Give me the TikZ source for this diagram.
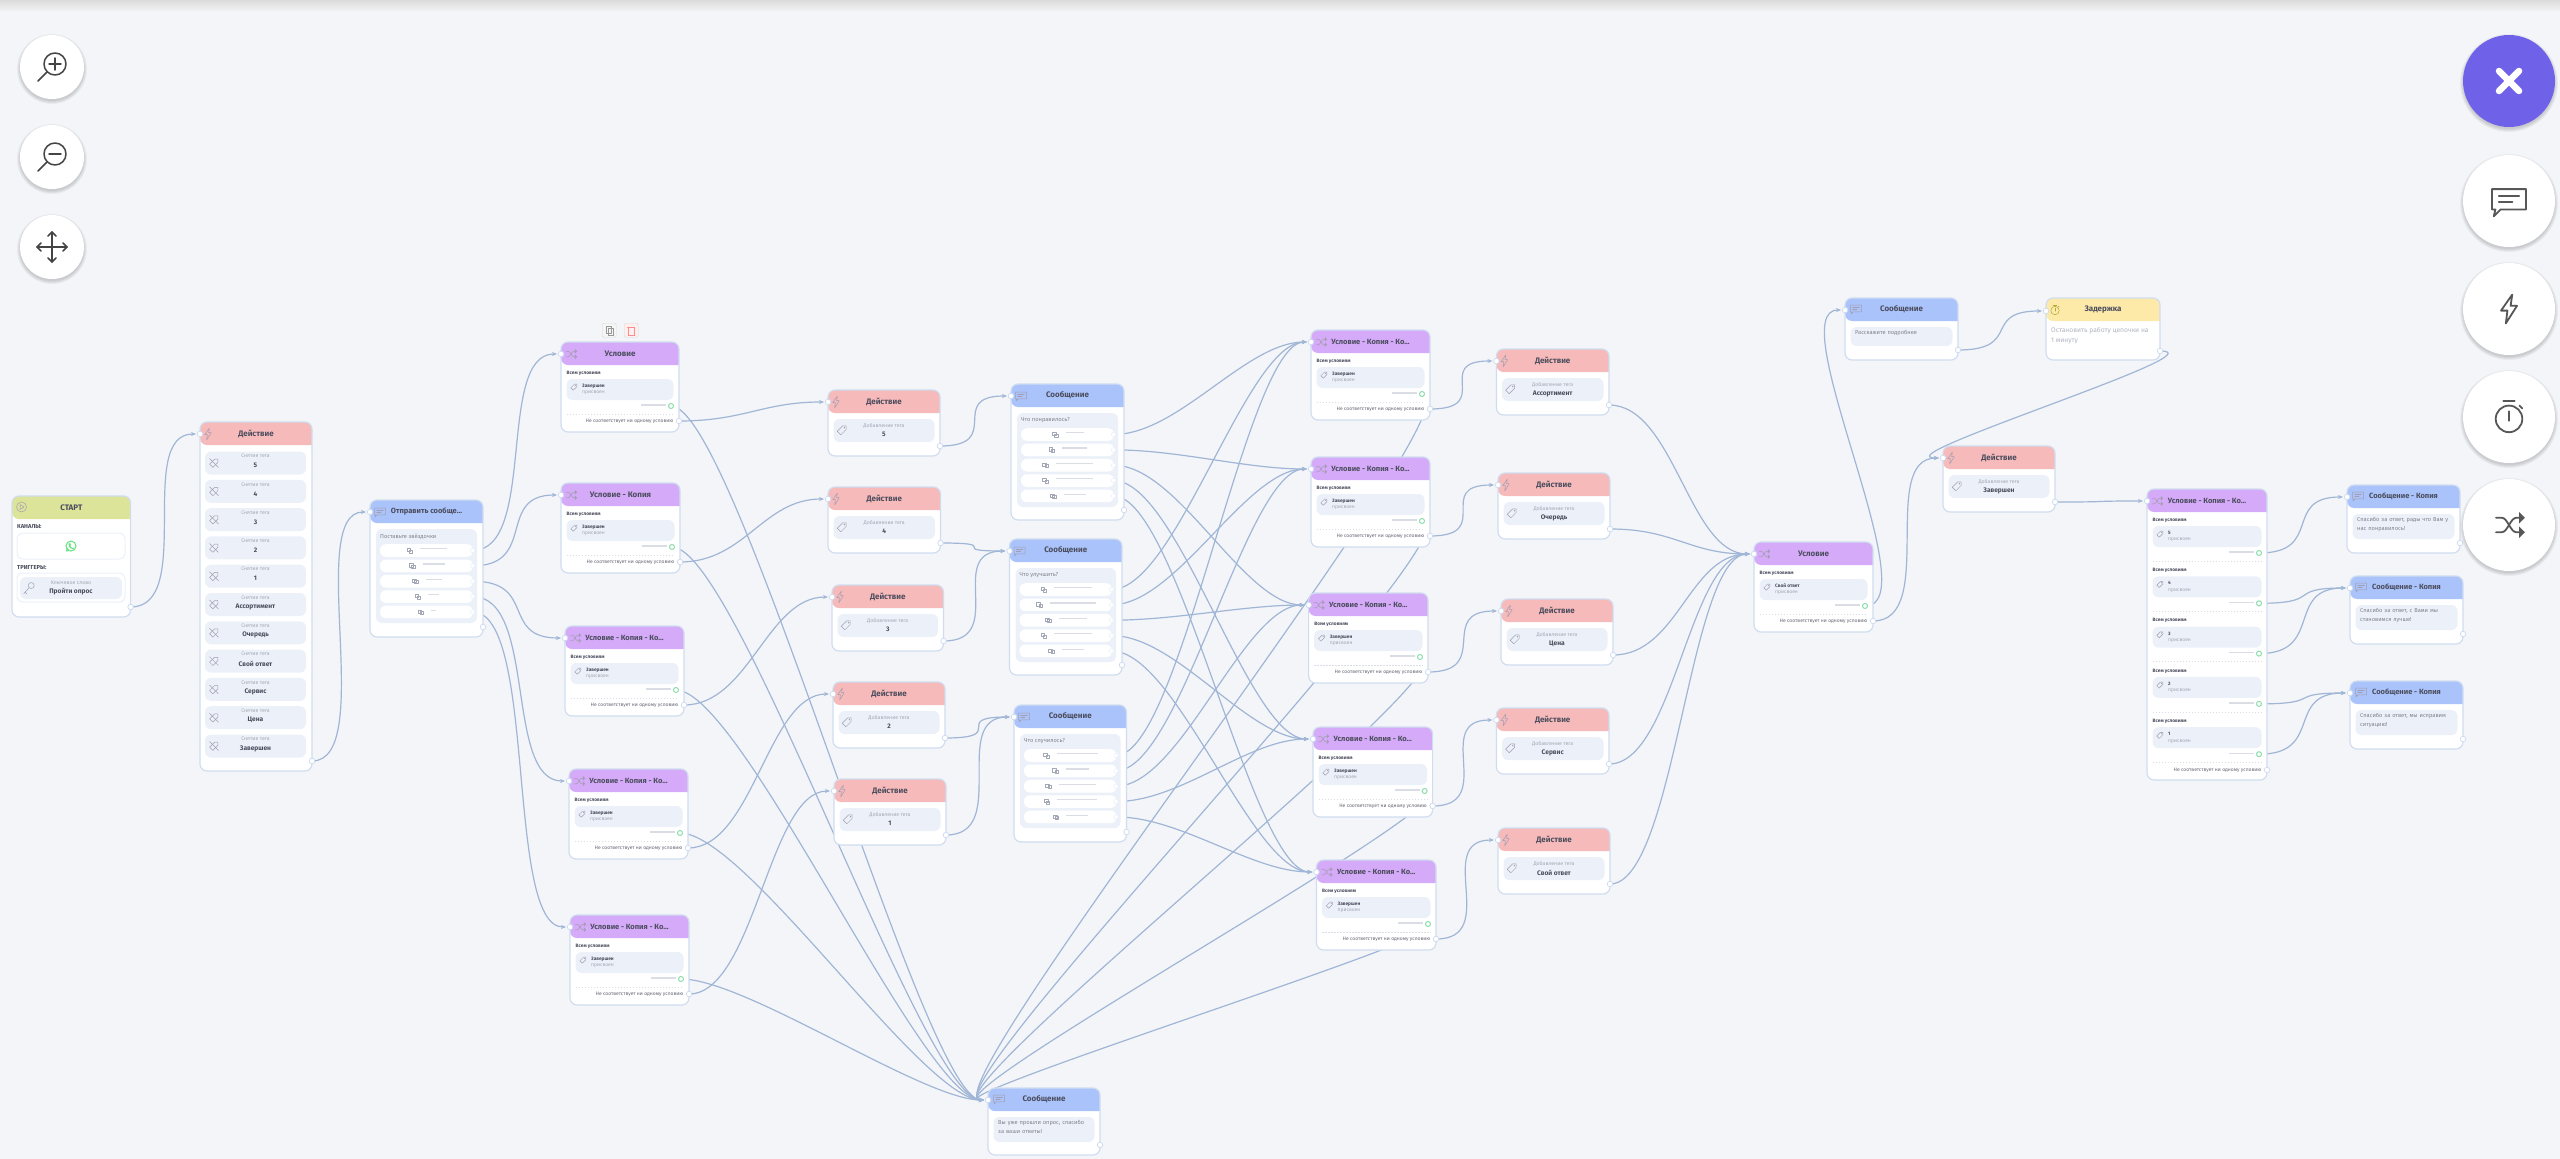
\documentclass[tikz,border=0pt]{standalone}
\usepackage{fontspec}
\setmainfont{Fira Sans}
\usetikzlibrary{arrows.meta}
\pgfdeclarelayer{bg}\pgfsetlayers{bg,main}
\definecolor{pagebg}{HTML}{F4F5F8}
\definecolor{edge}{HTML}{D0DDF0}
\definecolor{soft}{HTML}{ECF1F9}
\definecolor{wire}{HTML}{A0B6D6}
\definecolor{hgreen}{HTML}{DCE49A}
\definecolor{hred}{HTML}{F6BABA}
\definecolor{hblue}{HTML}{AAC3FA}
\definecolor{hpurple}{HTML}{D5AAF8}
\definecolor{hyellow}{HTML}{FDEAA9}
\definecolor{ink}{HTML}{4B4D5E}
\definecolor{mute}{HTML}{A3A7B5}
\definecolor{okgreen}{HTML}{8ADDAA}
\definecolor{rulegray}{HTML}{DADDE3}
\definecolor{iconc}{HTML}{A29DB0}
\definecolor{btn}{HTML}{444444}
\definecolor{violetb}{HTML}{6F62E8}
\newcounter{lbn}
\newcommand\lt[1]{{\fontsize{7.5}{9}\selectfont #1}}
\tikzset{
  x=1pt,y=-1pt,
  cardb/.style={draw=edge,line width=1.2pt,fill=white,rounded corners=7pt,inner sep=0pt,outer sep=0pt},
  softb/.style={fill=soft,rounded corners=6pt,inner sep=0pt,outer sep=0pt},
  rowb/.style={fill=white,rounded corners=6pt,inner sep=0pt,outer sep=0pt},
  outb/.style={fill=white,draw=soft,line width=1pt,rounded corners=6pt,inner sep=0pt,outer sep=0pt},
  portn/.style={circle,draw=edge,line width=.8pt,fill=white,minimum size=5.5pt,inner sep=0pt},
  portr/.style={circle,draw=soft,line width=.6pt,fill=white,minimum size=4.5pt,inner sep=0pt},
  portg/.style={circle,draw=okgreen,line width=1pt,fill=white,minimum size=5pt,inner sep=0pt},
  wirelink/.style={draw=wire,line width=1.2pt,-{Stealth[length=5pt,width=4pt]},shorten >=4pt},
  ttl/.style={text=ink,inner sep=0pt,font=\fontsize{8}{10}\selectfont\bfseries},
  captxt/.style={text=mute,inner sep=0pt,font=\fontsize{5.2}{6.5}\selectfont},
  valtxt/.style={text=ink,inner sep=0pt,font=\fontsize{6.6}{8}\selectfont\bfseries},
  headtxt/.style={text=ink,inner sep=0pt,anchor=west,font=\fontsize{5.8}{7}\selectfont\bfseries},
  smalltxt/.style={text=ink!85,inner sep=0pt,font=\fontsize{5}{6}\selectfont},
  smallb/.style={text=ink,inner sep=0pt,anchor=west,font=\fontsize{4.8}{6}\selectfont\bfseries},
  paratxt/.style={text=ink!70,inner sep=0pt,anchor=north west,align=left,font=\fontsize{5.7}{8.2}\selectfont},
  fainttxt/.style={text=mute!85,inner sep=0pt,anchor=north west,align=left,font=\fontsize{6.7}{9.6}\selectfont},
  graybar/.style={draw=rulegray,line width=1.2pt},
  dotrule/.style={draw=rulegray,line width=.5pt,dash pattern=on 1.5pt off 1.5pt},
}
\newcommand\lbl[4]{\stepcounter{lbn}\node[#1] (lb\arabic{lbn}) at ({#2},{#3}) {#4};}
\newcommand\boxn[5]{\stepcounter{lbn}\node[#5,anchor=north west,minimum width={((#3)-(#1))*1pt},minimum height={((#4)-(#2))*1pt}] (lb\arabic{lbn}) at ({#1},{#2}) {};}
\newcommand\conn[2]{\begin{pgfonlayer}{bg}\draw[wirelink] (#1.center) .. controls +(65,0) and +(-65,0) .. (#2.center);\end{pgfonlayer}}
% ---- icons
\newcommand\icshuf{\draw (-9,-5)--(-5,-5) .. controls (-1,-5) and (1,5) .. (5,5)--(9,5);\draw (-9,5)--(-5,5) .. controls (-1,5) and (1,-5) .. (5,-5)--(9,-5);\fill (7,-9)--(11,-5)--(7,-1)--cycle;\fill (7,1)--(11,5)--(7,9)--cycle;}
\newcommand\icbolt{\draw (2,-9)--(-5,1)--(-1,1)--(-2,9)--(5,-2)--(1,-2)--cycle;}
\newcommand\icmsg{\draw (-10,-7)--(10,-7)--(10,5)--(-5,5)--(-9,9)--(-8,5)--(-10,5)--cycle;\draw (-6,-3)--(6,-3);\draw (-6,.5)--(2,.5);}
\newcommand\ictag{\draw (-8,2)--(1,-7)--(7,-7)--(7,-1)--(-2,8)--cycle;\draw (4,-4) circle (.8);}
\newcommand\ictagoff{\draw (-8,2)--(1,-7)--(7,-7)--(7,-1)--(-2,8)--cycle;\draw (-8,-8)--(8,8);}
\newcommand\icwatch{\draw (0,1) circle (7);\draw (-3,-8.5)--(3,-8.5);\draw (0,-3)--(0,2);\draw (5.5,-6)--(7,-4.5);}
\newcommand\icplay{\draw (0,0) circle (10);\draw (-3,-5)--(5,0)--(-3,5)--cycle;}
\newcommand\ickey{\draw (3,-4) circle (4);\draw (0,-1)--(-7,7);\draw (-5,5)--(-3,7);}
\newcommand\icchat{\draw (-5,-4) rectangle (2,2);\draw (-1,-1) rectangle (5,4);}
\newcommand\iczoomin{\draw (3,-3) circle (11);\draw (-5,5)--(-14,14);\draw (-3,-3)--(9,-3);\draw (3,-9)--(3,3);}
\newcommand\iczoomout{\draw (3,-3) circle (11);\draw (-5,5)--(-14,14);\draw (-3,-3)--(9,-3);}
\newcommand\icmove{\draw (-15,0)--(15,0);\draw (0,-15)--(0,15);\draw (-11,-4)--(-15,0)--(-11,4);\draw (11,-4)--(15,0)--(11,4);\draw (-4,-11)--(0,-15)--(4,-11);\draw (-4,11)--(0,15)--(4,11);}
\newcommand\icclose{\draw (-10,-10)--(10,10);\draw (-10,10)--(10,-10);}
\newcommand\ico[6][.5pt]{\begin{scope}[shift={({#3},{#4})},scale=#5,draw=#6,fill=#6,line width=#1,line cap=round,line join=round]\csname ic#2\endcsname\end{scope}}
% ---- cards
\newcommand\card[7]{\node[cardb,anchor=north west,minimum width={((#4)-(#2))*1pt},minimum height={((#5)-(#3))*1pt},
   path picture={\fill[#6] (path picture bounding box.north west) rectangle ++(700,23);}] (#1) at ({#2},{#3}) {};
  \lbl{ttl}{((#2)+(#4))/2}{#3+11.5}{#7}}
\newcommand\inp[3]{\node[portn] (#1) at ({#2},{#3}) {};}
% action card: name,l,t,r,value
\newcommand\actcard[5]{\card{#1}{#2}{#3}{#4}{#3+66}{hred}{Действие}
  \ico{bolt}{#2+8}{#3+12}{.65}{iconc}
  \boxn{#2+5.5}{#3+29}{#4-5.5}{#3+52}{softb}
  \ico{tag}{#2+14}{#3+40}{.6}{iconc}
  \lbl{captxt}{(#2+#4)/2}{#3+36}{Добавление тега}
  \lbl{valtxt}{(#2+#4)/2}{#3+44.5}{#5}
  \inp{#1in}{#2}{#3+12}\inp{#1out}{#4}{#3+56}}
% condition block
\newcommand\condblock[5]{% name,l,t,r,tag
  \lbl{smallb}{#2+5.5}{#3+31}{Всем условиям}
  \boxn{#2+5.5}{#3+37}{#4-5.5}{#3+58}{softb}
  \ico{tag}{#2+13}{#3+45}{.4}{iconc}
  \lbl{smallb}{#2+21}{#3+44}{#5}
  \lbl{smalltxt,anchor=west,text=mute}{#2+21}{#3+51}{присвоен}
  \draw[graybar] (#4-38,#3+63) -- (#4-13,#3+63);
  \node[portg] (#1) at ({#4-8},{#3+64}) {};
  \draw[dotrule] (#2+5.5,#3+72) -- (#4-5.5,#3+72);}
\newcommand\condcard[6]{\card{#1}{#2}{#3}{#4}{#3+90}{hpurple}{#5}
  \ico{shuf}{#2+10}{#3+12}{.55}{iconc}
  \condblock{#1yes}{#2}{#3}{#4}{#6}
  \lbl{smalltxt,anchor=east}{#4-5.5}{#3+79}{Не соответствует ни одному условию}
  \inp{#1in}{#2}{#3+12}\inp{#1no}{#4}{#3+79}}
% question card: name,l,t,r,b,title,question,lengths
\newcommand\qcard[8]{\card{#1}{#2}{#3}{#4}{#5}{hblue}{#6}
  \ico{msg}{#2+10}{#3+12}{.55}{iconc}
  \boxn{#2+6}{#3+29}{#4-6}{#3+123}{softb}
  \lbl{paratxt,anchor=west}{#2+10}{#3+36.5}{#7}
  \foreach \L [count=\i] in {#8}{
    \pgfmathsetmacro\ry{#3+50.5+(\i-1)*15.35}
    \pgfmathsetmacro\sx{(#2+#4)/2-(14+\L)/2}
    \boxn{#2+10}{\ry-6.3}{#4-10}{\ry+6.3}{rowb}
    \ico[.4pt]{chat}{\sx+3.5}{\ry}{.55}{mute}
    \draw[graybar] (\sx+14,\ry-1.8) -- (\sx+14+\L,\ry-1.8);
    \node[portr] (#1r\i) at ({#4-10.5},{\ry}) {};
  }
  \inp{#1in}{#2}{#3+12}\inp{#1out}{#4}{#5-10}}
% text message card: name,l,t,r,b,title,text,inner-bottom
\newcommand\txtcard[8]{\card{#1}{#2}{#3}{#4}{#5}{hblue}{#6}
  \ico{msg}{#2+11}{#3+11}{.55}{iconc}
  \boxn{#2+5.5}{#3+29}{#4-5.5}{#8}{softb}
  \stepcounter{lbn}\node[paratxt,text width={(#4-#2-20)*1pt}] (lb\arabic{lbn}) at ({#2+10},{#3+32.5}) {#7};
  \inp{#1in}{#2}{#3+12}\inp{#1out}{#4}{#5-10}}
\newcommand\tagrow[4]{% l,r,y,value
  \boxn{#1}{#3-11.5}{#2}{#3+11.5}{softb}
  \ico{tagoff}{#1+9}{#3}{.55}{iconc}
  \lbl{captxt}{(#1+#2)/2}{#3-7}{Снятие тега}
  \lbl{valtxt}{(#1+#2)/2}{#3+2.5}{#4}}
\newcommand\circbtn[5]{\foreach \g in {3,2,1,0}{\fill[black,opacity=.045] ({#2},{#3+2}) circle ({#4+\g});}
  \node[circle,fill=#5,minimum size={2*#4*1pt},inner sep=0pt] (#1) at ({#2},{#3}) {};}
\begin{document}
\begin{tikzpicture}
\useasboundingbox (0,0) rectangle (2560,1159);
\begin{pgfonlayer}{bg}
\fill[pagebg] (0,0) rectangle (2560,1159);
\shade[top color=black!14,bottom color=pagebg] (0,0) rectangle (2560,12);
\end{pgfonlayer}

% START
\card{start}{12}{496}{130.6}{617}{hgreen}{СТАРТ}
\ico{play}{21.5}{507}{.5}{iconc}
\lbl{headtxt}{17}{527}{КАНАЛЫ:}
\boxn{17}{533}{125}{559}{outb}
\draw[draw=okgreen!80!green,line width=1.1pt] (71,546) circle (5);
\fill[okgreen!80!green] (66,551.5) -- (66.8,547) -- (70,551) -- cycle;
\fill[okgreen!80!green] (68.5,543.5) .. controls (68.5,548) and (71,549.5) .. (74,549.5) -- (73.5,547.5) -- (72,548) -- (70.5,546) -- (71,544.5) -- (70,543) -- cycle;
\lbl{headtxt}{17}{568}{ТРИГГЕРЫ:}
\boxn{17}{573}{125}{602}{outb}
\boxn{20}{577}{122}{599}{softb}
\ico{key}{29}{588.5}{.75}{iconc}
\lbl{captxt}{71}{583}{Ключевое слово}
\lbl{valtxt}{71}{591.5}{Пройти опрос}
\inp{startout}{130.6}{607}

% tag removal list
\card{amain}{200}{422}{312}{771}{hred}{Действие}
\ico{bolt}{208}{434}{.65}{iconc}
\foreach \v [count=\k] in {5,4,3,2,1,Ассортимент,Очередь,Свой ответ,Сервис,Цена,Завершен}{
  \pgfmathsetmacro\yy{463+(\k-1)*28.3}
  \tagrow{205}{306}{\yy}{\v}
}
\inp{amainin}{200}{434}\inp{amainout}{312}{761}

% rating question
\qcard{rate}{370}{500}{483}{637}{\lt{Отправить сообще...}}{Поставьте звёздочки}{27,22,16,11,5}

% first conditions
\condcard{ca}{561}{342}{679}{Условие}{Завершен}
\condcard{cb}{561}{483}{680}{Условие - Копия}{Завершен}
\condcard{cc}{565}{626}{684}{\lt{Условие - Копия - Ко...}}{Завершен}
\condcard{cd}{569}{769}{688}{\lt{Условие - Копия - Ко...}}{Завершен}
\condcard{ce}{570}{915}{689}{\lt{Условие - Копия - Ко...}}{Завершен}

% copy / delete tools
\node[draw=black!15,fill=black!4,minimum width=14pt,minimum height=14pt,inner sep=0pt,rounded corners=1.5pt,anchor=north west] (toolcopy) at (602,323) {};
\draw[draw=black!40,line width=.6pt] (606,326.5) rectangle (611.5,333) (608.5,328.5) rectangle (613.5,335);
\node[draw=black!15,fill=red!6,minimum width=14pt,minimum height=14pt,inner sep=0pt,rounded corners=1.5pt,anchor=north west] (tooldel) at (624,323) {};
\draw[draw=red!45,line width=.6pt] (628,327.5) rectangle (634,335) (627,327)--(635,327);

% actions
\actcard{aa}{828}{390}{940}{5}
\actcard{ab}{828}{487}{940.5}{4}
\actcard{ac}{832}{585}{943.5}{3}
\actcard{ad}{833}{682}{945}{2}
\actcard{ae}{834}{779}{946}{1}

% messages
\qcard{ma}{1011}{384}{1124}{520}{Сообщение}{Что понравилось?}{18,25,37.5,37.5,22}
\qcard{mb}{1009.5}{539}{1122}{675}{Сообщение}{Что улучшить?}{37.5,46,28.5,37.5,22}
\qcard{mc}{1014}{705}{1126.5}{842}{Сообщение}{Что случилось?}{40.7,23,37,40,22}

% second conditions
\condcard{da}{1311}{330}{1430}{\lt{Условие - Копия - Ко...}}{Завершен}
\condcard{db}{1311}{457}{1430}{\lt{Условие - Копия - Ко...}}{Завершен}
\condcard{dc}{1308.6}{593}{1428}{\lt{Условие - Копия - Ко...}}{Завершен}
\condcard{dd}{1313}{727}{1432.6}{\lt{Условие - Копия - Ко...}}{Завершен}
\condcard{de}{1316.5}{860}{1436}{\lt{Условие - Копия - Ко...}}{Завершен}

% topic actions
\actcard{ta}{1496.4}{349}{1609}{Ассортимент}
\actcard{tb}{1498}{473}{1610}{Очередь}
\actcard{tc}{1501}{599}{1613}{Цена}
\actcard{td}{1496.4}{708}{1609}{Сервис}
\actcard{te}{1498}{828}{1610}{Свой ответ}

% final condition
\condcard{fc}{1754}{542}{1873}{Условие}{Свой ответ}

% thanks
\txtcard{thanks}{988}{1088}{1100}{1155}{Сообщение}{Вы уже прошли опрос, спасибо за ваши ответы!}{1142}

% detail + delay
\txtcard{more}{1845}{298}{1958}{360}{Сообщение}{Расскажите подробнее}{346}
\card{delay}{2046}{298}{2160}{360}{hyellow}{Задержка}
\ico{watch}{2055}{310}{.6}{olive!70}
\lbl{fainttxt}{2051}{327.5}{Остановить работу цепочки на\\1 минуту}
\inp{delayin}{2046}{311}\inp{delayout}{2160}{351}

% finished action
\actcard{fin}{1943}{446}{2055}{Завершен}

% big condition
\card{big}{2147}{489}{2267}{780}{hpurple}{\lt{Условие - Копия - Ко...}}
\ico{shuf}{2157}{501}{.55}{iconc}
\foreach \v [count=\k] in {5,4,3,2,1}{
  \pgfmathsetmacro\ty{489+(\k-1)*50.3}
  \condblock{bigy\k}{2147}{\ty}{2267}{\v}
}
\lbl{smalltxt,anchor=east}{2261.5}{770}{Не соответствует ни одному условию}
\inp{bigin}{2147}{501}\inp{bigno}{2267}{770}

% copies
\txtcard{ka}{2347}{485}{2460}{553}{\lt{Сообщение - Копия}}{Спасибо за ответ, рады что Вам у нас понравилось!}{539}
\txtcard{kb}{2350}{576}{2463}{644}{\lt{Сообщение - Копия}}{Спасибо за ответ, с Вами мы становимся лучше!}{630}
\txtcard{kc}{2350}{681}{2463}{749}{\lt{Сообщение - Копия}}{Спасибо за ответ, мы исправим ситуацию!}{735}

% connectors
\conn{startout}{amainin}
\conn{amainout}{ratein}
\conn{rater1}{cain}\conn{rater2}{cbin}\conn{rater3}{ccin}\conn{rater4}{cdin}\conn{rater5}{cein}
\foreach \n/\a in {ca/aa,cb/ab,cc/ac,cd/ad,ce/ae}{\conn{\n no}{\a in}\conn{\n yes}{thanksin}}
\conn{aaout}{main}
\conn{about}{mbin}\conn{acout}{mbin}
\conn{adout}{mcin}\conn{aeout}{mcin}
\foreach \m in {ma,mb,mc}{
  \conn{\m r1}{dain}\conn{\m r2}{dbin}\conn{\m r3}{dcin}\conn{\m r4}{ddin}\conn{\m r5}{dein}
}
\foreach \n/\a in {da/ta,db/tb,dc/tc,dd/td,de/te}{\conn{\n no}{\a in}\conn{\n yes}{thanksin}\conn{\a out}{fcin}}
\conn{fcyes}{morein}
\conn{fcno}{finin}
\conn{moreout}{delayin}
\conn{delayout}{finin}
\conn{finout}{bigin}
\conn{bigy1}{kain}\conn{bigy2}{kbin}\conn{bigy3}{kbin}\conn{bigy4}{kcin}\conn{bigy5}{kcin}

% toolbars
\circbtn{bzin}{52}{67}{32}{white}
\circbtn{bzout}{52}{157}{32}{white}
\circbtn{bmove}{52}{247}{32}{white}
\circbtn{bclose}{2509}{81}{46}{violetb}
\circbtn{bmsg}{2509}{201}{46}{white}
\circbtn{bbolt}{2509}{309}{46}{white}
\circbtn{bwatch}{2509}{417}{46}{white}
\circbtn{bshuf}{2509}{525}{46}{white}
\ico[1.5pt]{zoomin}{52}{67}{1}{btn}
\ico[1.5pt]{zoomout}{52}{157}{1}{btn}
\ico[1.5pt]{move}{52}{247}{1}{btn}
\ico[6.5pt]{close}{2509}{81}{1}{white}
\ico[1.8pt]{msg}{2509}{201}{1.7}{btn!90}
\ico[1.8pt]{bolt}{2509}{309}{1.6}{btn!90}
\ico[1.8pt]{watch}{2509}{417}{1.9}{btn!90}
\ico[1.8pt]{shuf}{2509}{525}{1.45}{btn!90}
\end{tikzpicture}
\end{document}
